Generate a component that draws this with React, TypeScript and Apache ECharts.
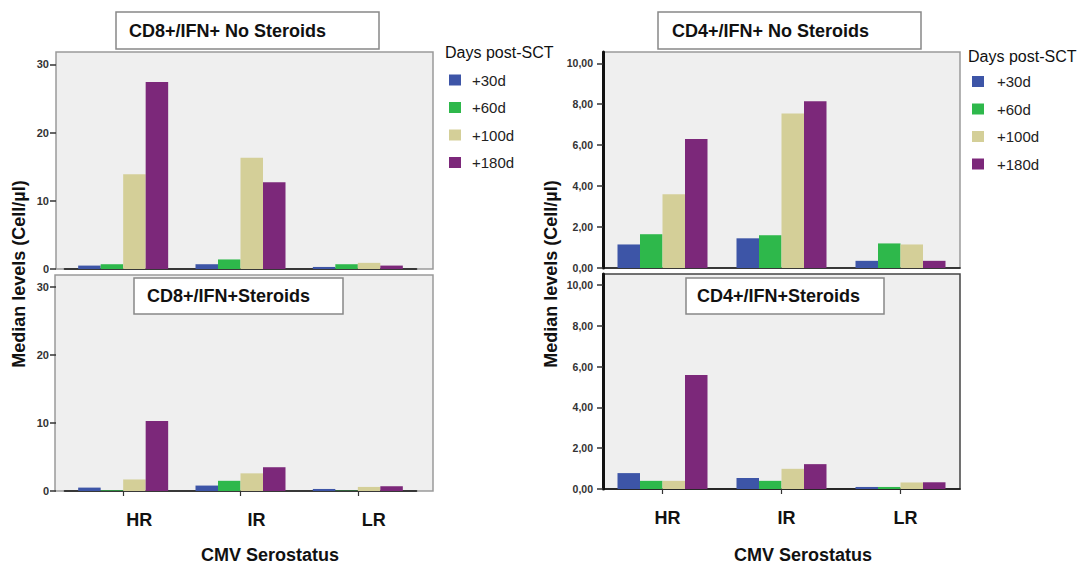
import React, { useEffect, useRef } from "react";
import * as echarts from "echarts";

const categories = ["HR", "IR", "LR"];
const dayNames = ["+30d", "+60d", "+100d", "+180d"];
const dayColors = ["#3D55A7", "#2EB84B", "#D4CF98", "#7C287A"];

// CD8+/IFN+ No Steroids
const cd8NoSteroids30d = [0.5, 0.7, 0.3];
const cd8NoSteroids60d = [0.7, 1.4, 0.7];
const cd8NoSteroids100d = [13.9, 16.3, 0.9];
const cd8NoSteroids180d = [27.4, 12.7, 0.5];

// CD8+/IFN+ Steroids
const cd8Steroids30d = [0.5, 0.8, 0.3];
const cd8Steroids60d = [0.1, 1.5, 0.05];
const cd8Steroids100d = [1.7, 2.6, 0.6];
const cd8Steroids180d = [10.3, 3.5, 0.7];

// CD4+/IFN+ No Steroids
const cd4NoSteroids30d = [1.15, 1.45, 0.35];
const cd4NoSteroids60d = [1.65, 1.6, 1.2];
const cd4NoSteroids100d = [3.6, 7.55, 1.15];
const cd4NoSteroids180d = [6.3, 8.15, 0.35];

// CD4+/IFN+ Steroids
const cd4Steroids30d = [0.78, 0.54, 0.1];
const cd4Steroids60d = [0.4, 0.4, 0.1];
const cd4Steroids100d = [0.4, 0.99, 0.32];
const cd4Steroids180d = [5.6, 1.22, 0.33];

const cd8Ticks = [0, 10, 20, 30];
const cd4Ticks = [0, 2, 4, 6, 8, 10];
const cd8Max = 31.8;
const cd4Max = 10.55;

const FONT = '"Liberation Sans", Arial, Helvetica, sans-serif';

function makeSeries(idx: number, arrays: number[][]) {
  return arrays.map((data, i) => ({
    type: "bar",
    name: dayNames[i],
    xAxisIndex: idx,
    yAxisIndex: idx,
    data,
    barWidth: 22.5,
    barGap: "0%",
    itemStyle: { color: dayColors[i] },
    emphasis: { disabled: true },
  }));
}

function xAxis(idx: number, showLabels: boolean, padLeft: number) {
  return {
    type: "category",
    gridIndex: idx,
    data: categories,
    axisLine: { show: true, lineStyle: { color: "#111", width: 1.6 } },
    axisTick: {
      show: showLabels,
      alignWithLabel: true,
      length: 5,
      lineStyle: { color: "#333", width: 1.2 },
    },
    axisLabel: {
      show: showLabels,
      margin: 20,
      fontSize: 18,
      fontWeight: "bold",
      color: "#111",
      fontFamily: FONT,
      padding: [0, 0, 0, padLeft],
    },
    splitLine: { show: false },
  };
}

function yAxisLeft(idx: number) {
  return {
    type: "value",
    gridIndex: idx,
    min: 0,
    max: cd8Max,
    interval: 10,
    offset: 8.5,
    axisLine: { show: false },
    axisTick: {
      show: true,
      length: 6,
      customValues: cd8Ticks,
      lineStyle: { color: "#333", width: 1.5 },
    },
    axisLabel: {
      margin: 7,
      fontSize: 11,
      fontWeight: "bold",
      color: "#333",
      fontFamily: FONT,
      customValues: cd8Ticks,
    },
    splitLine: { show: false },
  };
}

function yAxisRight(idx: number) {
  return {
    type: "value",
    gridIndex: idx,
    min: 0,
    max: cd4Max,
    interval: 2,
    axisLine: { show: true, lineStyle: { color: "#111", width: 3 } },
    axisTick: {
      show: true,
      length: 6,
      customValues: cd4Ticks,
      lineStyle: { color: "#333", width: 1.5 },
    },
    axisLabel: {
      margin: 10,
      fontSize: 10.5,
      fontWeight: "bold",
      color: "#333",
      fontFamily: FONT,
      customValues: cd4Ticks,
      formatter: (v: number) => v.toFixed(2).replace(".", ","),
    },
    splitLine: { show: false },
  };
}

function panelRect(x: number, y: number, w: number, h: number, stroke: string) {
  return {
    type: "rect",
    z: -10,
    silent: true,
    shape: { x, y, width: w, height: h },
    style: { fill: "#EFEFEF", stroke, lineWidth: 1.5 },
  };
}

function titleBox(x: number, y: number, w: number, h: number, text: string, tx: number) {
  return [
    {
      type: "rect",
      z: 50,
      silent: true,
      shape: { x, y, width: w, height: h },
      style: { fill: "#FFFFFF", stroke: "#888", lineWidth: 1.5 },
    },
    {
      type: "text",
      z: 51,
      silent: true,
      x: tx,
      y: y + h / 2,
      style: {
        text,
        fontSize: 18,
        fontWeight: "bold",
        fontFamily: FONT,
        fill: "#111",
        align: "left",
        verticalAlign: "middle",
        textAlign: "left",
        textVerticalAlign: "middle",
      },
    },
  ];
}

function plainText(x: number, y: number, text: string, size: number, bold: boolean, rotate = 0, align = "left") {
  return {
    type: "text",
    silent: true,
    x,
    y,
    rotation: rotate,
    style: {
      text,
      fontSize: size,
      fontWeight: bold ? "bold" : "normal",
      fontFamily: FONT,
      fill: "#111",
      align,
      verticalAlign: "middle",
      textAlign: align,
      textVerticalAlign: "middle",
    },
  };
}

function legendAt(left: number, top: number, pad: number) {
  return {
    data: dayNames,
    orient: "vertical",
    left,
    top,
    itemWidth: 12,
    itemHeight: 11,
    itemGap: 11.5,
    icon: "rect",
    selectedMode: false,
    padding: 0,
    textStyle: {
      fontSize: 15,
      color: "#222",
      fontFamily: FONT,
      lineHeight: 16,
      padding: [0, 0, 0, pad],
    },
  };
}

export default function App() {
  const ref = useRef<HTMLDivElement>(null);

  useEffect(() => {
    if (!ref.current) return;
    const chart = echarts.init(ref.current, null, { renderer: "svg" });

    const option = {
      animation: false,
      backgroundColor: "#FFFFFF",
      textStyle: { fontFamily: FONT },
      grid: [
        { left: 64.5, top: 52, width: 352, height: 217, outerBoundsMode: "none", containLabel: false },
        { left: 64.5, top: 275, width: 352, height: 216, outerBoundsMode: "none", containLabel: false },
        { left: 603, top: 52, width: 357, height: 216, outerBoundsMode: "none", containLabel: false },
        { left: 603, top: 274, width: 357, height: 215, outerBoundsMode: "none", containLabel: false },
      ],
      xAxis: [
        xAxis(0, false, 0),
        xAxis(1, true, 32),
        xAxis(2, false, 0),
        xAxis(3, true, 10),
      ],
      yAxis: [yAxisLeft(0), yAxisLeft(1), yAxisRight(2), yAxisRight(3)],
      legend: [legendAt(449, 72, 6), legendAt(972, 73.5, 8)],
      series: [
        ...makeSeries(0, [cd8NoSteroids30d, cd8NoSteroids60d, cd8NoSteroids100d, cd8NoSteroids180d]),
        ...makeSeries(1, [cd8Steroids30d, cd8Steroids60d, cd8Steroids100d, cd8Steroids180d]),
        ...makeSeries(2, [cd4NoSteroids30d, cd4NoSteroids60d, cd4NoSteroids100d, cd4NoSteroids180d]),
        ...makeSeries(3, [cd4Steroids30d, cd4Steroids60d, cd4Steroids100d, cd4Steroids180d]),
      ],
      graphic: {
        elements: [
          panelRect(56, 52, 377, 217, "#9A9A9A"),
          panelRect(55, 275, 378, 216, "#9A9A9A"),
          panelRect(603, 52, 357, 216, "#9A9A9A"),
          panelRect(603, 274, 357, 215, "#444444"),
          ...titleBox(116, 12, 263, 37, "CD8+/IFN+ No Steroids", 129),
          ...titleBox(658, 12, 263, 37, "CD4+/IFN+ No Steroids", 672),
          ...titleBox(134, 278, 209, 36, "CD8+/IFN+Steroids", 147),
          ...titleBox(686, 278, 198, 36, "CD4+/IFN+Steroids", 697),
          plainText(445, 52, "Days post-SCT", 16, false),
          plainText(968, 56, "Days post-SCT", 16, false),
          plainText(19, 274, "Median levels (Cell/µl)", 18, true, Math.PI / 2, "center"),
          plainText(551, 274, "Median levels (Cell/µl)", 18, true, Math.PI / 2, "center"),
          plainText(270, 555, "CMV Serostatus", 18, true, 0, "center"),
          plainText(803, 555, "CMV Serostatus", 18, true, 0, "center"),
        ],
      },
    };

    chart.setOption(option as any);
    return () => {
      chart.dispose();
    };
  }, []);

  return (
    <div
      ref={ref}
      style={{ position: "fixed", left: 0, top: 0, width: 1084, height: 564 }}
    />
  );
}
